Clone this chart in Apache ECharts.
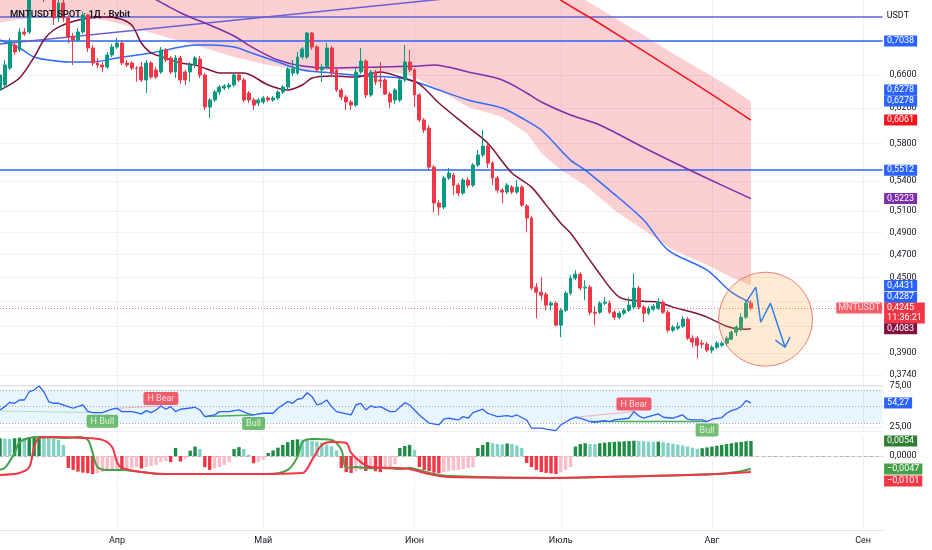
<!DOCTYPE html>
<html><head><meta charset="utf-8">
<script src="https://cdn.jsdelivr.net/npm/echarts/dist/echarts.min.js"></script>
<style>html,body{margin:0;padding:0;background:#fff}#c{width:932px;height:550px}</style>
</head><body><div id="c"></div>
<script>
// ---------- categories (daily) ----------
const categories = [];
(function(){const s=Date.UTC(2025,2,8);for(let k=0;k<182;k++){categories.push(new Date(s+k*86400000).toISOString().slice(0,10));}})();
const monthNames = ['Янв','Фев','Мар','Апр','Май','Июн','Июль','Авг','Сен','Окт','Ноя','Дек'];

// ---------- candles [open, close, low, high] ----------
const candles = [
[0.6415,0.6600,0.6355,0.6663],[0.6476,0.6726,0.6439,0.6790],[0.6688,0.7025,0.6663,0.7079],[0.6985,0.6894,0.6855,0.7025],[0.6920,0.7160,0.6894,0.7214],
[0.7160,0.7133,0.7106,0.7214],[0.7160,0.7680,0.7133,0.7826],[0.7680,0.7901,0.7650,0.8051],[0.7901,0.7752,0.7680,0.8020],[0.7752,0.7636,0.7578,0.7826],
[0.7636,0.7781,0.7607,0.7871],[0.7680,0.7352,0.7255,0.7752],[0.7352,0.7564,0.7296,0.7607],[0.7564,0.7352,0.7296,0.7607],[0.7352,0.7092,0.7012,0.7394],
[0.7092,0.7052,0.6726,0.7146],[0.7052,0.7160,0.7025,0.7214],[0.7160,0.7394,0.7133,0.7436],[0.7394,0.6946,0.6894,0.7408],[0.6946,0.6752,0.6713,0.6985],
[0.6752,0.6726,0.6688,0.6816],[0.6726,0.6701,0.6638,0.6764],[0.6701,0.6855,0.6676,0.6894],[0.6855,0.6959,0.6829,0.6998],[0.6959,0.7012,0.6933,0.7079],
[0.7012,0.6752,0.6726,0.7039],[0.6752,0.6726,0.6701,0.6790],[0.6752,0.6688,0.6663,0.6777],[0.6688,0.6682,0.6513,0.6713],[0.6701,0.6538,0.6513,0.6764],
[0.6538,0.6752,0.6379,0.6790],[0.6752,0.6575,0.6550,0.6777],[0.6663,0.6575,0.6550,0.6701],[0.6638,0.6920,0.6613,0.6959],[0.6920,0.6790,0.6764,0.6946],
[0.6816,0.6638,0.6613,0.6842],[0.6638,0.6816,0.6563,0.6855],[0.6816,0.6538,0.6488,0.6842],[0.6638,0.6538,0.6476,0.6663],[0.6638,0.6726,0.6513,0.6764],
[0.6726,0.6816,0.6688,0.6842],[0.6803,0.6600,0.6563,0.6842],[0.6600,0.6212,0.6177,0.6625],[0.6212,0.6295,0.6084,0.6319],[0.6295,0.6391,0.6271,0.6415],
[0.6391,0.6451,0.6355,0.6476],[0.6439,0.6464,0.6415,0.6488],[0.6451,0.6476,0.6427,0.6501],[0.6476,0.6600,0.6451,0.6625],[0.6600,0.6538,0.6513,0.6625],
[0.6538,0.6295,0.6271,0.6563],[0.6379,0.6295,0.6259,0.6403],[0.6295,0.6235,0.6177,0.6319],[0.6259,0.6295,0.6224,0.6319],[0.6271,0.6319,0.6247,0.6343],
[0.6319,0.6295,0.6271,0.6343],[0.6295,0.6319,0.6271,0.6343],[0.6319,0.6391,0.6295,0.6415],[0.6391,0.6451,0.6367,0.6476],[0.6451,0.6676,0.6427,0.6701],
[0.6625,0.6676,0.6588,0.6790],[0.6625,0.6829,0.6600,0.6894],[0.6829,0.6933,0.6803,0.6959],[0.6829,0.7146,0.6803,0.7160],[0.7146,0.6959,0.6920,0.7160],
[0.6959,0.6663,0.6638,0.6985],[0.6663,0.6701,0.6513,0.6739],[0.6701,0.6946,0.6676,0.7012],[0.6946,0.6625,0.6600,0.6972],[0.6663,0.6415,0.6391,0.6688],
[0.6415,0.6331,0.6295,0.6439],[0.6331,0.6271,0.6177,0.6355],[0.6271,0.6235,0.6177,0.6295],[0.6235,0.6638,0.6212,0.6688],[0.6638,0.6777,0.6613,0.6946],
[0.6777,0.6355,0.6319,0.6803],[0.6355,0.6638,0.6331,0.6663],[0.6638,0.6513,0.6476,0.6663],[0.6538,0.6525,0.6439,0.6764],[0.6538,0.6367,0.6355,0.6563],
[0.6367,0.6271,0.6200,0.6391],[0.6295,0.6415,0.6247,0.6439],[0.6295,0.6538,0.6271,0.6563],[0.6538,0.6764,0.6513,0.6985],[0.6764,0.6663,0.6638,0.6920],
[0.6663,0.6355,0.6212,0.6688],[0.6355,0.6061,0.6038,0.6379],[0.6061,0.5947,0.5914,0.6084],[0.5970,0.5544,0.5513,0.6004],[0.5544,0.5179,0.5091,0.5565],
[0.5179,0.5140,0.5062,0.5208],[0.5140,0.5430,0.5120,0.5451],[0.5430,0.5482,0.5410,0.5534],[0.5461,0.5358,0.5258,0.5482],[0.5358,0.5278,0.5248,0.5379],
[0.5278,0.5410,0.5258,0.5430],[0.5410,0.5358,0.5328,0.5440],[0.5358,0.5565,0.5338,0.5586],[0.5565,0.5672,0.5544,0.5726],[0.5672,0.5769,0.5650,0.5947],
[0.5769,0.5586,0.5534,0.5791],[0.5586,0.5430,0.5358,0.5608],[0.5430,0.5308,0.5278,0.5451],[0.5308,0.5288,0.5179,0.5328],[0.5288,0.5358,0.5268,0.5379],
[0.5338,0.5288,0.5268,0.5358],[0.5288,0.5338,0.5268,0.5410],[0.5338,0.5159,0.5140,0.5358],[0.5150,0.5034,0.4902,0.5169],[0.5034,0.4409,0.4392,0.5053],
[0.4417,0.4375,0.4165,0.4451],[0.4375,0.4350,0.4309,0.4501],[0.4358,0.4269,0.4228,0.4375],[0.4269,0.4285,0.4228,0.4301],[0.4285,0.4110,0.4102,0.4301],
[0.4110,0.4228,0.4018,0.4244],[0.4228,0.4367,0.4212,0.4384],[0.4367,0.4493,0.4350,0.4518],[0.4493,0.4527,0.4476,0.4561],[0.4527,0.4409,0.4392,0.4544],
[0.4409,0.4417,0.4309,0.4476],[0.4417,0.4212,0.4189,0.4434],[0.4212,0.4204,0.4110,0.4261],[0.4212,0.4285,0.4197,0.4301],[0.4285,0.4293,0.4269,0.4334],
[0.4285,0.4212,0.4197,0.4309],[0.4212,0.4173,0.4149,0.4228],[0.4173,0.4204,0.4157,0.4220],[0.4204,0.4228,0.4189,0.4244],[0.4228,0.4269,0.4212,0.4334],
[0.4253,0.4409,0.4236,0.4535],[0.4409,0.4253,0.4236,0.4426],[0.4253,0.4204,0.4133,0.4269],[0.4204,0.4244,0.4189,0.4261],[0.4236,0.4261,0.4220,0.4277],
[0.4244,0.4293,0.4228,0.4326],[0.4293,0.4212,0.4197,0.4309],[0.4212,0.4071,0.4056,0.4228],[0.4071,0.4095,0.4056,0.4110],[0.4087,0.4102,0.4071,0.4133],
[0.4102,0.4157,0.4087,0.4181],[0.4157,0.4010,0.3995,0.4173],[0.4010,0.3980,0.3942,0.4033],[0.4010,0.3957,0.3861,0.4025],[0.3972,0.3965,0.3935,0.3995],
[0.3965,0.3920,0.3905,0.3980],[0.3920,0.3942,0.3898,0.3957],[0.3942,0.3972,0.3927,0.3987],[0.3957,0.3972,0.3942,0.3987],[0.3972,0.4010,0.3950,0.4025],
[0.4002,0.4056,0.3995,0.4071],[0.4056,0.4095,0.4025,0.4110],[0.4079,0.4173,0.4063,0.4204],[0.4173,0.4285,0.4157,0.4309],[0.4285,0.4245,0.4228,0.4309]
];
const lastPrice = 0.4245;

// ---------- moving averages [dayIndex, value] ----------
const ma20 = [[0,0.6415],[4,0.6563],[7,0.6829],[9,0.7052],[11,0.7187],[14,0.7283],[17,0.7338],[21,0.7366],[24,0.7352],[27,0.7255],[29,0.7012],[31,0.6881],[34,0.6816],[37,0.6752],[40,0.6726],[43,0.6663],[45,0.6625],[50,0.6625],[55,0.6476],[59,0.6415],[62,0.6476],[64,0.6563],[68,0.6588],[73,0.6575],[78,0.6638],[82,0.6575],[86,0.6488],[90,0.6259],[96,0.5981],[100,0.5802],[105,0.5482],[109,0.5338],[112,0.5159],[115,0.4986],[117,0.4893],[122,0.4587],[127,0.4334],[132,0.4301],[135,0.4293],[138,0.4253],[142,0.4212],[145,0.4173],[149,0.4102],[152,0.4079],[154,0.4083]];
const ma50 = [[0,0.7052],[1,0.7025],[4,0.6946],[7,0.6829],[10,0.6790],[14,0.6764],[19,0.6764],[24,0.6816],[31,0.6881],[37,0.6959],[40,0.6985],[43,0.6985],[48,0.6959],[51,0.6894],[57,0.6764],[62,0.6663],[68,0.6625],[75,0.6588],[82,0.6563],[86,0.6501],[90,0.6415],[96,0.6295],[103,0.6200],[107,0.6084],[111,0.5947],[117,0.5618],[120,0.5513],[125,0.5308],[132,0.5015],[137,0.4738],[145,0.4561],[150,0.4375],[154,0.4287]];
const ma100 = [[25,0.7870],[31,0.7650],[34,0.7535],[38,0.7394],[43,0.7255],[48,0.7106],[52,0.6946],[57,0.6790],[62,0.6713],[68,0.6688],[78,0.6701],[86,0.6713],[89,0.6726],[96,0.6638],[103,0.6538],[108,0.6379],[111,0.6271],[117,0.6118],[123,0.6004],[133,0.5726],[144,0.5451],[154,0.5223]];
const ma200 = [[110,0.7871],[115,0.7607],[123,0.7276],[133,0.6866],[143,0.6476],[154,0.6061]];

// ---------- cloud band ----------
const cloudIdx   = [0,3,7,10,14,19,24,29,34,38,42,48,55,62,68,74,82,85,89,96,103,108,111,115,120,126,132,138,145,150,154];
const cloudLower = [0.7283,0.7324,0.7352,0.7394,0.7394,0.7352,0.7283,0.7187,0.7092,0.7025,0.6946,0.6829,0.6726,0.6663,0.6663,0.6651,0.6625,0.6575,0.6451,0.6212,0.6095,0.5914,0.5693,0.5513,0.5358,0.5111,0.4921,0.4738,0.4605,0.4501,0.4431];
const cloudUpper = [0.9,0.9,0.9,0.9,0.9,0.9,0.9,0.9,0.9,0.9,0.9,0.9,0.9,0.9,0.9,0.9,0.9,0.9,0.9,0.9,0.9,0.9,0.9,0.7811,0.7607,0.7359,0.7115,0.6874,0.6620,0.6440,0.6278];

// ---------- drawn lines ----------
const hLines = [0.7366, 0.7038, 0.5512];
const trendLine = [[0,0.6998],[92,0.7629]];
const forecastPath = [[153,0.4293],[155,0.4417],[156,0.4133],[158,0.4285],[161,0.3942]];
const forecastHead = [[159,0.3995],[161,0.3942],[162,0.4018]];
const focusCircle = [[157,0.4157]];

// ---------- axis ticks & tags ----------
const priceTicks = [0.66,0.62,0.58,0.54,0.51,0.49,0.47,0.45,0.43,0.41,0.39,0.374];
const priceTags = [
  {text:'0,7038', at:0.7038, color:'#2962ff'},
  {text:'0,6278', at:0.6415, color:'#2962ff'},
  {text:'0,6278', at:0.6283, color:'#2962ff'},
  {text:'0,6061', at:0.6061, color:'#f5141c'},
  {text:'0,5512', at:0.5512, color:'#2962ff'},
  {text:'0,5223', at:0.5223, color:'#7b2fa8'},
  {text:'0,4431', at:0.4431, color:'#2962ff'},
  {text:'0,4287', at:0.4334, color:'#2962ff'},
  {text:'0,4245\n11:36:21', at:0.4205, color:'#f23645'},
  {text:'0,4083', at:0.4083, color:'#80123f'}
];

// ---------- RSI ----------
const rsi = [[0,45.7],[1,49.8],[2,55.1],[3,53.9],[4,57.9],[5,57.9],[6,68.0],[7,70.1],[8,75.0],[9,68.0],[10,55.9],[11,53.9],[12,53.9],[14,49.8],[15,47.8],[17,51.8],[18,44.0],[19,42.4],[21,42.4],[23,46.6],[24,47.8],[25,43.7],[27,43.7],[28,42.4],[29,40.9],[30,44.9],[31,42.4],[32,45.7],[33,50.6],[34,46.6],[35,49.8],[36,43.7],[37,46.6],[40,49.0],[41,45.7],[42,37.6],[44,39.6],[45,43.7],[47,43.7],[49,45.7],[51,40.9],[52,39.6],[54,41.7],[56,41.7],[57,47.8],[59,55.9],[60,53.9],[61,58.8],[62,60.0],[63,66.8],[64,62.0],[65,51.8],[66,53.9],[67,57.9],[68,49.8],[69,43.7],[72,39.6],[73,51.8],[74,53.9],[75,45.7],[76,50.6],[77,49.0],[78,49.8],[80,43.7],[81,43.7],[83,54.6],[84,51.8],[86,39.6],[88,29.5],[90,27.4],[91,34.4],[92,35.6],[94,33.5],[95,37.6],[96,35.6],[97,42.4],[99,46.6],[100,41.7],[102,37.6],[104,38.8],[105,37.6],[106,39.6],[108,33.5],[109,23.4],[111,23.4],[112,22.2],[114,20.5],[115,27.4],[117,34.4],[118,36.8],[119,35.6],[121,31.5],[122,30.7],[124,32.7],[125,31.5],[126,33.5],[129,35.6],[130,43.7],[131,38.4],[132,35.6],[133,37.6],[135,40.9],[136,36.8],[138,35.6],[140,39.6],[141,34.4],[142,33.5],[144,33.5],[145,31.5],[146,34.4],[148,36.3],[149,41.7],[150,44.9],[151,46.6],[152,50.0],[153,57.1],[154,54.27]];
const divergences = [
  {from:[0,44.5], to:[20,42.4], bull:true, faint:true, text:'H Bull', at:[21,42.4]},
  {from:[24,47.8], to:[33,50.6], bull:false, faint:true, text:'H Bear', at:[33,50.6]},
  {from:[42,37.6], to:[52,39.6], bull:true, faint:false, text:'Bull', at:[52,39.6]},
  {from:[118,36.8], to:[130,43.7], bull:false, faint:true, text:'H Bear', at:[130,43.7]},
  {from:[121,31.5], to:[145,31.5], bull:true, faint:false, text:'Bull', at:[145,31.5]}
];

// ---------- MACD ----------
const hist = [
 0.0064,0.0063,0.0062,0.0064,0.0066,0.0065,0.0068,0.0070,0.0071,0.0068, //0-9
 0.0066,0.0062,0.0058,0.0040,-0.0043,-0.0050,-0.0056,-0.0060,-0.0062,-0.0065, //10-19
 -0.0062,-0.0058,-0.0054,-0.0050,-0.0047,-0.0050,-0.0047,-0.0043,-0.0040,-0.0045, //20-29
 -0.0040,-0.0036,-0.0032,-0.0022,-0.0018,-0.0022,0.0029,-0.0020,-0.0011,0.0019, //30-39
 0.0034,0.0025,-0.0040,-0.0050,-0.0045,-0.0040,-0.0032,-0.0022,0.0025,0.0032, //40-49
 0.0025,0.0005,-0.0026,-0.0022,-0.0014,0.0011,0.0020,0.0030,0.0040,0.0050, //50-59
 0.0058,0.0060,0.0059,0.0057,0.0055,0.0052,0.0048,0.0042,0.0035,0.0020, //60-69
 -0.0043,-0.0058,-0.0061,-0.0055,-0.0050,-0.0054,-0.0050,-0.0055,-0.0058,-0.0050, //70-79
 -0.0042,-0.0030,0.0029,0.0036,0.0040,0.0022,-0.0040,-0.0050,-0.0055,-0.0060, //80-89
 -0.0062,-0.0058,-0.0055,-0.0052,-0.0050,-0.0047,-0.0043,-0.0040,0.0029,0.0040, //90-99
 0.0050,0.0046,0.0043,0.0042,0.0045,0.0044,0.0038,0.0029,-0.0025,-0.0040, //100-109
 -0.0050,-0.0058,-0.0061,-0.0063,-0.0065,-0.0058,-0.0050,-0.0040,0.0034,0.0043, //110-119
 0.0046,0.0044,0.0043,0.0046,0.0048,0.0050,0.0051,0.0052,0.0053,0.0054, //120-129
 0.0055,0.0054,0.0053,0.0052,0.0051,0.0052,0.0050,0.0047,0.0044,0.0041, //130-139
 0.0038,0.0034,0.0030,0.0026,0.0028,0.0031,0.0034,0.0037,0.0040,0.0043, //140-149
 0.0046,0.0049,0.0051,0.0053,0.0054 //150-154
];
const macdLine = [[0,-0.0050],[1,-0.0043],[3,0.0011],[4,0.0050],[6,0.0065],[8,0.0068],[14,0.0065],[16,0.0068],[18,0.0058],[19,0.0011],[20,-0.0040],[22,-0.0050],[25,-0.0050],[29,-0.0058],[33,-0.0065],[41,-0.0065],[55,-0.0065],[59,-0.0050],[61,-0.0004],[62,0.0050],[64,0.0061],[68,0.0058],[70,0.0022],[71,-0.0043],[73,-0.0040],[75,-0.0043],[79,-0.0043],[82,-0.0047],[84,-0.0043],[88,-0.0061],[92,-0.0072],[113,-0.0079],[133,-0.0072],[147,-0.0065],[151,-0.0058],[154,-0.0047]];
const signalLine = [[0,-0.0068],[4,-0.0061],[6,-0.0040],[7,0.0032],[8,0.0065],[11,0.0068],[17,0.0065],[21,0.0058],[23,0.0032],[24,-0.0022],[25,-0.0043],[29,-0.0058],[34,-0.0065],[48,-0.0065],[62,-0.0061],[64,-0.0014],[66,0.0040],[68,0.0050],[71,0.0047],[72,0.0011],[74,-0.0022],[76,-0.0040],[81,-0.0043],[84,-0.0047],[88,-0.0065],[92,-0.0076],[113,-0.0079],[133,-0.0072],[147,-0.0065],[154,-0.0058]];
const macdTags = [
  {text:'0,0054', at:0.0054, color:'#2e7d32'},
  {text:'\u22120,0047', at:-0.0047, color:'#43a047'},
  {text:'\u22120,0101', at:-0.0090, color:'#f23645'}
];

// ================= chart =================
const FONT = 'Roboto, "Noto Sans", Arial, sans-serif';
const RIGHT = 49.4;
const fmt4 = v => v.toFixed(4).replace('.', ',');
const isMonthStart = (idx, val) => String(val != null ? val : categories[idx]).slice(8,10) === '01';
const fmtMonth = v => monthNames[+String(v).slice(5,7)-1];

function tag(text, bg, extra){
  return Object.assign({show:true, position:'end', distance:1.5, formatter:text, color:'#fff',
    backgroundColor:bg, padding:[1,3,0,3], fontSize:9, lineHeight:10, fontFamily:FONT}, extra||{});
}
function plain(text){
  return {show:true, position:'end', distance:7, formatter:text, color:'#131722', fontSize:9, fontFamily:FONT};
}
function mline(z, data){ return {silent:true, symbol:'none', z:z, precision:8, animation:false, data:data}; }
const hidden = {lineStyle:{color:'rgba(0,0,0,0)', width:1}};

const grids = [
  {left:0, right:RIGHT, top:0, height:385},
  {left:0, right:RIGHT, top:386, height:45},
  {left:0, right:RIGHT, top:436, height:46},
  {left:0, right:RIGHT, top:483, height:47}
].map(g => Object.assign(g, {containLabel:false, outerBoundsMode:'none'}));

const xAxes = grids.map((g, k) => ({
  type:'category', gridIndex:k, data:categories, boundaryGap:false,
  axisLine:{show:true, lineStyle:{color: k===1 ? '#edf0f4' : '#e0e3eb', width:1}},
  axisTick:{show:false},
  axisLabel:{show:k===3, interval:isMonthStart, formatter:fmtMonth, color:'#131722', fontSize:9, margin:6, fontFamily:FONT},
  splitLine:{show:true, interval:isMonthStart, lineStyle:{color:'#edf0f4', width:1}},
  axisPointer:{show:false}
}));
const yAxes = [
  {type:'log', logBase:10, gridIndex:0, min:0.3670, max:0.7607, show:false},
  {type:'value', gridIndex:1, min:20, max:75, show:false},
  {type:'value', gridIndex:2, min:-0.00936, max:0.0072, show:false},
  {type:'value', gridIndex:3, min:0, max:1, show:false}
];

const series = [];
const P = {xAxisIndex:0, yAxisIndex:0};
// cloud
series.push(Object.assign({type:'line', stack:'cloud', data:cloudIdx.map((i,k)=>[i,cloudLower[k]]), symbol:'none', lineStyle:{width:0,opacity:0}, silent:true, z:1}, P));
series.push(Object.assign({type:'line', stack:'cloud', data:cloudIdx.map((i,k)=>[i,+(cloudUpper[k]-cloudLower[k]).toFixed(4)]), symbol:'none', lineStyle:{width:0,opacity:0}, areaStyle:{color:'rgba(242,54,69,0.24)', opacity:1}, silent:true, z:1}, P));
// grid lines + tick labels
series.push(Object.assign({type:'line', data:[], silent:true, markLine:mline(0,
  priceTicks.map(v=>({yAxis:v, lineStyle:{color:'#edf0f4', width:1, type:'solid'}, label:plain(fmt4(v))})))}, P));
// horizontal drawn lines
series.push(Object.assign({type:'line', data:[], silent:true, markLine:mline(3,
  hLines.map((v,k)=>({yAxis:v, lineStyle:{color: k===0 ? '#5b63d8' : '#2962ff', width:1.5, type:'solid'}, label:{show:false}})))}, P));
// trend line
series.push(Object.assign({type:'line', data:trendLine, symbol:'none', lineStyle:{color:'#6a5fd6', width:1.5}, silent:true, z:3}, P));
// MAs
[[ma200,'#f5141c'],[ma100,'#7b2fa8'],[ma50,'#2f6bff'],[ma20,'#80123f']].forEach(([d,c])=>{
  series.push(Object.assign({type:'line', data:d, symbol:'none', smooth:0.3, lineStyle:{color:c, width:1.5}, silent:true, z:4}, P));
});
// candles
series.push(Object.assign({type:'candlestick', data:candles, barWidth:3.4, z:5,
  itemStyle:{color:'#089981', color0:'#f23645', borderColor:'#089981', borderColor0:'#f23645', borderWidth:1},
  markLine:mline(4, [{yAxis:lastPrice, lineStyle:{color:'#f23645', width:1, type:[1,2], opacity:0.7}, label:{show:false}}])}, P));
// circle & forecast
series.push(Object.assign({type:'scatter', data:focusCircle, symbol:'circle', symbolSize:94, silent:true, z:6, clip:false,
  itemStyle:{color:'rgba(255,167,60,0.28)', borderColor:'#f0605a', borderWidth:1}}, P));
series.push(Object.assign({type:'line', data:forecastPath, symbol:'none', lineStyle:{color:'#2f80ed', width:1.5}, silent:true, z:7}, P));
series.push(Object.assign({type:'line', data:forecastHead, symbol:'none', lineStyle:{color:'#2f80ed', width:1.5}, silent:true, z:7}, P));
// tags
series.push(Object.assign({type:'line', data:[], silent:true, markLine:mline(20,
  priceTags.map(t=>Object.assign({yAxis:t.at, label:tag(t.text, t.color)}, hidden)))}, P));
series.push(Object.assign({type:'scatter', data:[[181,lastPrice]], symbolSize:1, clip:false, silent:true, z:20,
  itemStyle:{color:'rgba(0,0,0,0)'},
  label:{show:true, position:'left', distance:0, formatter:'MNTUSDT', color:'#fff', backgroundColor:'#f23645', padding:[1,2,0,2], fontSize:9, lineHeight:10, fontFamily:FONT}}, P));

// RSI
const R = {xAxisIndex:1, yAxisIndex:1};
series.push(Object.assign({type:'line', data:rsi, symbol:'none', lineStyle:{color:'#2962ff', width:1.3}, silent:true, z:5,
  markArea:{silent:true, itemStyle:{color:'rgba(33,150,243,0.10)'}, data:[[{yAxis:30},{yAxis:70}]]},
  markLine:mline(2, [
    {yAxis:75, lineStyle:{color:'#edf0f4', width:1, type:'solid'}, label:plain('75,00')},
    {yAxis:25, lineStyle:{color:'#edf0f4', width:1, type:'solid'}, label:plain('25,00')},
    {yAxis:70, lineStyle:{color:'#a3a6af', width:1, type:[1,2]}, label:{show:false}},
    {yAxis:50, lineStyle:{color:'#a3a6af', width:1, type:[1,2]}, label:{show:false}},
    {yAxis:30, lineStyle:{color:'#a3a6af', width:1, type:[1,2]}, label:{show:false}},
    Object.assign({yAxis:54.27, label:tag('54,27','#2962ff')}, hidden)
  ])}, R));
divergences.forEach(d=>{
  const col = d.bull ? (d.faint ? 'rgba(76,175,80,0.35)' : '#4caf50') : 'rgba(242,54,69,0.35)';
  series.push(Object.assign({type:'line', data:[d.from, d.to], symbol:'none', lineStyle:{color:col, width:d.faint?1:1.5}, silent:true, z:4}, R));
});
series.push(Object.assign({type:'scatter', symbolSize:1, silent:true, z:10, clip:false, itemStyle:{color:'rgba(0,0,0,0)'},
  data:divergences.map(d=>({value:d.at, label:{show:true, position:d.bull?'bottom':'top', distance:d.bull?1.5:0.5, formatter:d.text,
    color:'#fff', backgroundColor:d.bull?'#4caf50':'#f23645', padding:[2,4,1,4], borderRadius:2, fontSize:9, lineHeight:10, fontFamily:FONT}}))}, R));

// MACD
const M = {xAxisIndex:2, yAxisIndex:2};
const histData = hist.map((v,k)=>{const p = k>0 ? hist[k-1] : v; let c;
  if (v >= 0) c = v >= p ? '#1f8c46' : '#80d0c4'; else c = v <= p ? '#f23645' : '#f9bcc9';
  return {value:[k,v], itemStyle:{color:c}};});
series.push(Object.assign({type:'bar', data:histData, barWidth:3.4, silent:true, z:2,
  markLine:mline(1, [{yAxis:0, lineStyle:{color:'#b2b5be', width:1, type:[3,3]}, label:plain('0,0000')}])}, M));
series.push(Object.assign({type:'line', data:macdLine, symbol:'none', smooth:0.3, lineStyle:{color:'#43a047', width:2}, silent:true, z:4}, M));
series.push(Object.assign({type:'line', data:signalLine, symbol:'none', smooth:0.3, lineStyle:{color:'#f23645', width:2}, silent:true, z:4}, M));
series.push(Object.assign({type:'line', data:[], silent:true, markLine:mline(20,
  macdTags.map(t=>Object.assign({yAxis:t.at, label:tag(t.text, t.color)}, hidden)))}, M));
// bottom pane (time scale)
series.push({type:'line', xAxisIndex:3, yAxisIndex:3, data:[], silent:true});

const chart = echarts.init(document.getElementById('c'), null, {renderer:'canvas'});
chart.setOption({
  animation:false,
  backgroundColor:'#ffffff',
  textStyle:{fontFamily:FONT},
  title:[
    {text:'MNTUSDT SPOT · 1Д · Bybit', left:5, top:5, textStyle:{fontSize:9.5, fontWeight:600, color:'#131722', fontFamily:FONT}},
    {text:'USDT', right:18, top:6, textStyle:{fontSize:9, fontWeight:'normal', color:'#131722', fontFamily:FONT}}
  ],
  grid:grids, xAxis:xAxes, yAxis:yAxes, series:series
});
</script>
</body></html>
